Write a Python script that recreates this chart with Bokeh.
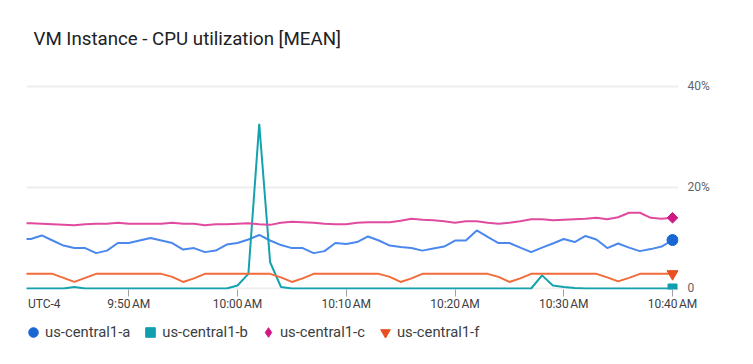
import math
from bokeh.plotting import figure
from bokeh.layouts import column
from bokeh.models import FixedTicker, Legend, LegendItem, Range1d, LinearAxis, Grid
from bokeh.embed import file_html
from bokeh.resources import INLINE

# minutes after 9:40 AM (one sample per minute)
minutes = list(range(61))

zone_a = "us-central1-a"
zone_b = "us-central1-b"
zone_c = "us-central1-c"
zone_f = "us-central1-f"

cpu_a = [9.8, 9.8, 10.5, 9.5, 8.5, 8.0, 8.0, 7.0, 7.5, 9.0,
         9.0, 9.5, 10.0, 9.5, 9.0, 7.7, 8.0, 7.2, 7.5, 8.7,
         9.0, 9.7, 10.6, 9.5, 8.6, 8.0, 8.0, 7.0, 7.4, 9.0,
         8.8, 9.2, 10.3, 9.5, 8.5, 8.2, 8.0, 7.5, 7.9, 8.3,
         9.5, 9.5, 11.5, 10.2, 9.0, 9.0, 8.1, 7.2, 8.1, 8.9,
         9.8, 9.2, 10.4, 9.7, 8.0, 8.9, 8.1, 7.4, 7.8, 8.3,
         9.6]
cpu_b = [0, 0, 0, 0, 0, 0.3, 0, 0, 0, 0,
         0, 0, 0, 0, 0, 0, 0, 0, 0, 0,
         0.6, 2.9, 32.6, 5.2, 0.3, 0, 0, 0, 0, 0,
         0, 0, 0, 0, 0, 0, 0, 0, 0, 0,
         0, 0, 0, 0, 0, 0, 0, 0, 2.6, 0.6,
         0.3, 0.1, 0, 0, 0, 0, 0, 0, 0, 0,
         0]
cpu_c = [12.9, 12.9, 12.8, 12.7, 12.6, 12.5, 12.7, 12.8, 12.8, 13.0,
         12.8, 12.8, 12.8, 12.8, 13.0, 12.8, 12.8, 12.5, 12.7, 12.7,
         12.8, 12.9, 12.7, 12.6, 13.0, 13.2, 13.1, 13.0, 12.8, 12.7,
         12.7, 13.0, 13.1, 13.1, 13.1, 13.4, 13.8, 13.6, 13.5, 13.3,
         13.0, 13.3, 13.3, 13.0, 12.8, 13.0, 13.3, 13.7, 13.7, 13.5,
         13.6, 13.7, 13.8, 14.0, 13.7, 14.1, 15.0, 15.0, 14.0, 13.8,
         14.0]
cpu_f = [2.9, 2.9, 2.9, 2.9, 2.1, 1.3, 2.1, 2.9, 2.9, 2.9,
         2.9, 2.9, 2.9, 2.9, 2.3, 1.3, 2.0, 2.9, 2.9, 2.9,
         2.9, 2.9, 2.9, 2.9, 2.2, 1.3, 2.0, 2.9, 2.9, 2.9,
         2.9, 2.9, 2.9, 2.9, 2.3, 1.3, 2.0, 2.9, 2.9, 2.9,
         2.9, 2.9, 2.9, 2.9, 2.3, 1.3, 2.0, 2.9, 2.9, 2.9,
         2.9, 2.9, 2.9, 2.9, 2.2, 1.4, 2.1, 2.9, 2.9, 2.9,
         2.9]

x_ticks = [10, 20, 30, 40, 50, 60]
x_tick_labels = ["9:50\u202fAM", "10:00\u202fAM", "10:10\u202fAM",
                 "10:20\u202fAM", "10:30\u202fAM", "10:40\u202fAM"]
y_ticks = [0, 20, 40]
y_tick_labels = ["0", "20%", "40%"]
zone_label = "UTC-4"
title_text = "VM Instance - CPU utilization [MEAN]"

FONT = "Roboto"
x_start, x_end = 0.6, 60.55
zone_label_pos = x_start + 1.63   # centre of the time-zone label on the axis

p = figure(width=753, height=318, output_backend="svg", toolbar_location=None,
           x_range=Range1d(x_start, x_end), y_range=Range1d(-0.2, 44.75),
           x_axis_location=None, y_axis_location="right",
           min_border_left=26, min_border_right=75,
           min_border_top=62, min_border_bottom=29)
p.outline_line_color = None

p.title.text = title_text
p.title.text_font = FONT
p.title.text_font_size = "18.7px"
p.title.text_font_style = "normal"
p.title.text_color = "#202124"
p.title.offset = 7
p.title.standoff = 25

for g in p.select(type=Grid):
    if g.dimension == 0:
        g.visible = False
p.ygrid.ticker = FixedTicker(ticks=y_ticks)
p.ygrid.grid_line_color = "#eeeeee"
p.ygrid.grid_line_width = 2

# axis carrying only the tick marks
tick_axis = LinearAxis(ticker=FixedTicker(ticks=x_ticks),
                       major_label_overrides={t: "" for t in x_ticks},
                       major_label_text_font_size="1px",
                       axis_line_color=None, major_tick_out=7, major_tick_in=0,
                       major_tick_line_color="#9aa0a6", minor_tick_line_color=None,
                       major_label_standoff=0)
p.add_layout(tick_axis, "below")

# axis carrying only the labels (time zone + times)
label_pos = [zone_label_pos] + x_ticks
label_txt = [zone_label] + x_tick_labels
label_axis = LinearAxis(ticker=FixedTicker(ticks=label_pos),
                        major_label_overrides=dict(zip(label_pos, label_txt)),
                        axis_line_color=None, major_tick_out=0, major_tick_in=0,
                        major_tick_line_color=None, minor_tick_line_color=None,
                        major_label_standoff=0,
                        major_label_text_font=FONT,
                        major_label_text_font_size="12px",
                        major_label_text_color="#3c4043")
p.add_layout(label_axis, "below")

ya = p.yaxis[0]
ya.ticker = FixedTicker(ticks=y_ticks)
ya.major_label_overrides = dict(zip(y_ticks, y_tick_labels))
ya.axis_line_color = None
ya.major_tick_line_color = None
ya.minor_tick_line_color = None
ya.major_tick_out = 0
ya.major_tick_in = 0
ya.major_label_standoff = 9
ya.major_label_text_font = FONT
ya.major_label_text_font_size = "12px"
ya.major_label_text_color = "#5f6368"

# name, values, line colour, marker colour, end marker, size, angle, legend marker
series = [
    (zone_a, cpu_a, "#4a88ee", "#1967d2", "circle", 11, 0, "circle"),
    (zone_b, cpu_b, "#14a3ae", "#129eaf", "square", 9, 0, "square"),
    (zone_c, cpu_c, "#e04b9f", "#d01884", "square", 7.5, math.pi / 4, "diamond"),
    (zone_f, cpu_f, "#f26b3a", "#e8501f", "inverted_triangle", 11, 0, "inverted_triangle"),
]

for name, vals, lc, mc, marker, size, ang, lmarker in series:
    p.line(minutes, vals, line_color=lc, line_width=2)
for name, vals, lc, mc, marker, size, ang, lmarker in series:
    p.scatter([minutes[-1]], [vals[-1]], marker=marker, size=size, angle=ang,
              fill_color=mc, line_color=mc)

# legend strip below the chart (its own ranges keep the end points out of view)
lg = figure(width=753, height=46, output_backend="svg", toolbar_location=None,
            x_range=Range1d(-2, -1), y_range=Range1d(-2, -1),
            x_axis_location=None, y_axis_location=None,
            min_border_left=0, min_border_right=0,
            min_border_top=0, min_border_bottom=0)
lg.outline_line_color = None
for g in lg.select(type=Grid):
    g.visible = False
items = []
for name, vals, lc, mc, marker, size, ang, lmarker in series:
    r = lg.scatter(x=[minutes[-1]], y=[vals[-1]], marker=lmarker,
                   fill_color=mc, line_color=mc)
    items.append(LegendItem(label=name, renderers=[r]))

legend = Legend(items=items, orientation="horizontal", location=(-5, 20),
                margin=0, padding=0, spacing=8, glyph_width=24, glyph_height=24,
                label_standoff=0, label_height=24,
                label_text_font=FONT, label_text_font_size="14.8px",
                label_text_color="#3c4043", border_line_color=None,
                background_fill_alpha=0)
lg.add_layout(legend, "center")

page = column(p, lg, spacing=0)
open("out.html", "w").write(file_html(page, INLINE))
